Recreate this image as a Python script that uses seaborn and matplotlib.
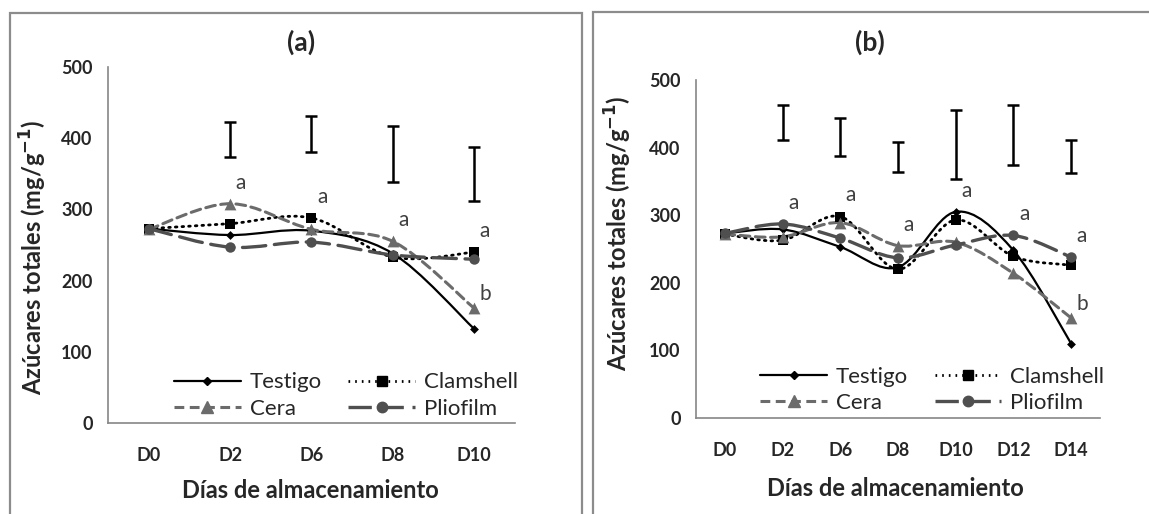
import numpy as np
import matplotlib
matplotlib.use("Agg")
import matplotlib.pyplot as plt
from matplotlib.path import Path
from matplotlib.patches import PathPatch, Rectangle
from matplotlib.lines import Line2D
import seaborn as sns
import pandas as pd

# ---- datos ----
dias_a = ["D0", "D2", "D6", "D8", "D10"]
testigo_a = [273, 264, 270, 238, 132]
clamshell_a = [273, 280, 288, 233, 240]
cera_a = [272, 308, 272, 255, 161]
pliofilm_a = [273, 247, 254, 236, 230]
err_low_a = [None, 373, 381, 339, 312]
err_high_a = [None, 423, 431, 417, 388]
letras_a = ["", "a", "a", "a", "a"]

dias_b = ["D0", "D2", "D6", "D8", "D10", "D12", "D14"]
testigo_b = [273, 279, 253, 223, 305, 248, 110]
clamshell_b = [272, 263, 298, 220, 293, 239, 226]
cera_b = [272, 268, 289, 255, 260, 214, 148]
pliofilm_b = [273, 287, 266, 237, 256, 270, 238]
err_low_b = [None, 411, 388, 364, 354, 374, 363]
err_high_b = [None, 463, 444, 409, 455, 463, 411]
letras_b = ["", "a", "a", "a", "a", "a", "a"]

tratamientos = ["Testigo", "Clamshell", "Cera", "Pliofilm"]

estilos = {
    "Testigo": dict(color="black", ls="-", lw=1.6, marker="D", ms=4.5),
    "Clamshell": dict(color="black", ls=(0, (0.6, 1.8)), lw=2.0, marker="s", ms=7.5),
    "Cera": dict(color="#6b6b6b", ls=(0, (3.2, 1.8)), lw=2.2, marker="^", ms=8.5),
    "Pliofilm": dict(color="#4f4f4f", ls=(0, (7, 2.6)), lw=2.4, marker="o", ms=7.5),
}

sns.set_style("white")
plt.rcParams["font.family"] = ["Lato", "DejaVu Sans"]


def curva_suave(x, y):
    # curva tipo "linea suavizada" de Excel (Bezier Catmull-Rom)
    pts = np.column_stack([x, y]).astype(float)
    n = len(pts)
    verts = [pts[0]]
    codes = [Path.MOVETO]
    for i in range(n - 1):
        p0 = pts[i - 1] if i > 0 else pts[i]
        p1 = pts[i]
        p2 = pts[i + 1]
        p3 = pts[i + 2] if i + 2 < n else pts[i + 1]
        c1 = p1 + (p2 - p0) / 6.0
        c2 = p2 - (p3 - p1) / 6.0
        verts += [c1, c2, p2]
        codes += [Path.CURVE4] * 3
    return Path(verts, codes)


def panel(fig, rect, dias, series, err_low, err_high, letras, titulo, tpos, ylpos, xlpos):
    ax = fig.add_axes(rect)
    pos = np.arange(len(dias))
    df = pd.DataFrame({"pos": np.tile(pos, len(tratamientos)),
                       "valor": np.concatenate([series[t] for t in tratamientos]),
                       "trat": np.repeat(tratamientos, len(dias))})

    for t in tratamientos:
        st = estilos[t]
        ax.add_patch(PathPatch(curva_suave(pos, series[t]), fill=False,
                               edgecolor=st["color"], lw=st["lw"],
                               linestyle=st["ls"], capstyle="round", zorder=2))
        sub = df[df["trat"] == t]
        sns.scatterplot(data=sub, x="pos", y="valor", ax=ax, marker=st["marker"],
                        s=st["ms"] ** 2, color=st["color"], edgecolor=st["color"],
                        linewidth=0, zorder=3, legend=False)

    # barras de error (DMS)
    ex = [p for p, lo in zip(pos, err_low) if lo is not None]
    lo = np.array([v for v in err_low if v is not None], dtype=float)
    hi = np.array([v for v in err_high if v is not None], dtype=float)
    ax.errorbar(ex, (lo + hi) / 2, yerr=(hi - lo) / 2, fmt="none", ecolor="black",
                elinewidth=1.8, capsize=4, capthick=1.8, zorder=4)

    # letras de significancia
    for p, l in zip(pos, letras):
        if not l:
            continue
        top = max(series[t][p] for t in tratamientos)
        ax.annotate(l, (p, top), xytext=(4, 8), textcoords="offset points",
                    fontsize=15, color="#404040", ha="left", va="bottom")
    ax.annotate("b", (pos[-1], series["Cera"][-1]), xytext=(4, 3),
                textcoords="offset points", fontsize=15, color="#404040",
                ha="left", va="bottom")

    ax.set_xlim(-0.5, len(dias) - 0.5)
    ax.set_ylim(0, 500)
    ax.set_yticks(range(0, 501, 100))
    ax.set_xticks(pos)
    ax.set_xticklabels(dias)
    ax.set_xticks(np.arange(-0.5, len(dias), 1.0), minor=True)
    ax.tick_params(axis="x", which="major", length=0, pad=17, labelsize=13)
    ax.tick_params(axis="x", which="minor", length=6, width=1, color="#868686", direction="out")
    ax.tick_params(axis="y", length=5, width=1, color="#868686", direction="out",
                   labelsize=13, pad=6)
    for lab in ax.get_xticklabels() + ax.get_yticklabels():
        lab.set_fontweight("bold")
    for s in ["top", "right"]:
        ax.spines[s].set_visible(False)
    for s in ["left", "bottom"]:
        ax.spines[s].set_color("#868686")
        ax.spines[s].set_linewidth(1.2)
    ax.set_xlabel("")
    ax.set_ylabel("")

    fig.text(tpos[0], tpos[1], titulo, fontsize=19, fontweight="bold", ha="center", va="center")
    fig.text(ylpos[0], ylpos[1], "Azúcares totales (mg/g$^{\\mathbf{-1}}$)", rotation=90,
             fontsize=17, fontweight="bold", ha="center", va="center")
    fig.text(xlpos[0], xlpos[1], "Días de almacenamiento", fontsize=17,
             fontweight="bold", ha="center", va="center")

    handles = []
    for t in ["Testigo", "Cera", "Clamshell", "Pliofilm"]:
        st = estilos[t]
        handles.append(Line2D([0], [0], color=st["color"], ls=st["ls"], lw=st["lw"],
                              marker=st["marker"], ms=st["ms"], label=t))
    ax.legend(handles=handles, ncol=2, frameon=False, loc="lower center",
              bbox_to_anchor=(0.585, -0.045), fontsize=16, handlelength=3.0,
              columnspacing=1.2, labelspacing=0.3, handletextpad=0.4)
    return ax


W, H = 1149, 514
fig = plt.figure(figsize=(W / 100, H / 100), dpi=100)

# marcos de cada panel
fig.add_artist(Rectangle((10 / W, -0.05), (582 - 10) / W, 1.05 - 13 / H,
                         transform=fig.transFigure, fill=False, edgecolor="#8c8c8c", lw=1.6))
fig.add_artist(Rectangle((593 / W, -0.05), (1160 - 593) / W, 1.05 - 12 / H,
                         transform=fig.transFigure, fill=False, edgecolor="#8c8c8c", lw=1.6))

panel(fig, [108 / W, 1 - 423 / H, (515 - 108) / W, (423 - 67) / H], dias_a,
      {"Testigo": testigo_a, "Clamshell": clamshell_a, "Cera": cera_a, "Pliofilm": pliofilm_a},
      err_low_a, err_high_a, letras_a, "(a)",
      (301 / W, 1 - 42 / H), (33 / W, 1 - 257 / H), (310 / W, 1 - 490 / H))

panel(fig, [696 / W, 1 - 418 / H, (1100 - 696) / W, (418 - 80) / H], dias_b,
      {"Testigo": testigo_b, "Clamshell": clamshell_b, "Cera": cera_b, "Pliofilm": pliofilm_b},
      err_low_b, err_high_b, letras_b, "(b)",
      (870 / W, 1 - 42 / H), (618 / W, 1 - 233 / H), (895 / W, 1 - 489 / H))

fig.savefig("out.png", dpi=100)
